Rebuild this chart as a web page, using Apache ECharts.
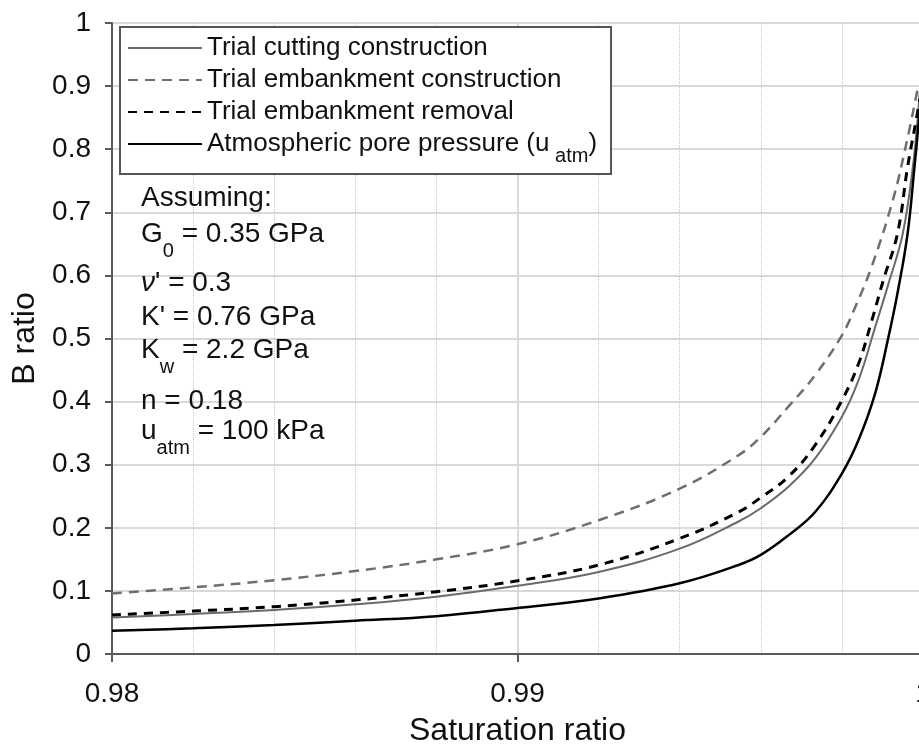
<!DOCTYPE html>
<html>
<head>
<meta charset="utf-8">
<script src="https://cdn.jsdelivr.net/npm/echarts@6/dist/echarts.min.js"></script>
<style>
  html, body { margin: 0; padding: 0; background: #fff; }
  #chart-b { width: 919px; height: 744px; }
</style>
</head>
<body>
<div id="chart-b"></div>
<script>
// series names (legend order)
const seriesNames = [
  "Trial cutting construction",
  "Trial embankment construction",
  "Trial embankment removal",
  "Atmospheric pore pressure (u atm)",
];

// saturation ratio / B ratio
const satCutting = [0.980, 0.982, 0.984, 0.986, 0.988, 0.990, 0.992, 0.994, 0.99545, 0.996, 0.99668, 0.99734, 0.998, 0.99841, 0.99882, 0.99914, 0.9995, 0.99975, 0.99987, 0.99992];
const bCutting   = [0.058, 0.0634, 0.0697, 0.0787, 0.0908, 0.108, 0.130, 0.167, 0.210, 0.231, 0.265, 0.310, 0.376, 0.434, 0.518, 0.585, 0.666, 0.772, 0.85, 0.89];

const satEmbConst = [0.980, 0.982, 0.984, 0.986, 0.988, 0.990, 0.992, 0.994, 0.99545, 0.996, 0.99668, 0.99734, 0.998, 0.99833, 0.99874, 0.99926, 0.99959, 0.99987];
const bEmbConst   = [0.096, 0.1056, 0.117, 0.1315, 0.150, 0.174, 0.212, 0.262, 0.315, 0.344, 0.392, 0.442, 0.505, 0.550, 0.615, 0.720, 0.809, 0.896];

const satEmbRemoval = [0.980, 0.982, 0.984, 0.986, 0.988, 0.990, 0.992, 0.994, 0.99545, 0.996, 0.99668, 0.99734, 0.998, 0.99841, 0.99874, 0.99902, 0.99937, 0.99962, 0.99983, 0.99992];
const bEmbRemoval   = [0.062, 0.068, 0.075, 0.0855, 0.0987, 0.116, 0.141, 0.183, 0.225, 0.248, 0.281, 0.331, 0.402, 0.460, 0.529, 0.592, 0.666, 0.772, 0.846, 0.88];

const satAtm = [0.980, 0.982, 0.984, 0.986, 0.988, 0.990, 0.992, 0.994, 0.99545, 0.996, 0.99668, 0.99734, 0.998, 0.99841, 0.99882, 0.99915, 0.99938, 0.99962, 0.99979, 0.99992];
const bAtm   = [0.037, 0.0407, 0.046, 0.0528, 0.060, 0.073, 0.088, 0.112, 0.141, 0.157, 0.188, 0.225, 0.286, 0.339, 0.413, 0.503, 0.575, 0.666, 0.772, 0.86];

// assumption text lines ({s|..} = subscript)
const notes = [
  "Assuming:",
  "G{s|0} = 0.35 GPa",
  "{i|ν}' = 0.3",
  "K' = 0.76 GPa",
  "K{s|w} = 2.2 GPa",
  "n = 0.18",
  "u{s|atm} = 100 kPa",
];
const noteY = [198, 234, 283, 317, 350, 401, 431];

const font = "'Liberation Sans', Arial, sans-serif";
const pairs = (xs, ys) => xs.map((x, i) => [x, ys[i]]);

const chart = echarts.init(document.getElementById("chart-b"));

function lineSeries(name, data, color, width, dash) {
  return {
    type: "line",
    name: name,
    data: data,
    showSymbol: false,
    symbol: "none",
    smooth: 0.4,
    lineStyle: { color: color, width: width, type: dash || "solid" },
    itemStyle: { color: color },
  };
}

chart.setOption({
  animation: false,
  backgroundColor: "#fff",
  grid: { left: 112, top: 23, width: 811, height: 631, outerBoundsMode: "none", containLabel: false },
  legend: {
    orient: "vertical",
    left: 120,
    top: 27,
    backgroundColor: "#fff",
    borderColor: "#555",
    borderWidth: 2,
    borderRadius: 0,
    padding: [8, 14, 8, 7],
    itemGap: 6,
    itemWidth: 74,
    itemHeight: 14,
    selectedMode: false,
    itemStyle: { opacity: 0 },
    data: seriesNames,
    formatter: function (name) {
      if (name === seriesNames[3]) return "Atmospheric pore pressure (u{s| atm})";
      return name;
    },
    textStyle: {
      fontFamily: font,
      fontSize: 26,
      color: "#111",
      rich: {
        s: { fontFamily: font, fontSize: 20, color: "#111", lineHeight: 26, verticalAlign: "top", padding: [15, 0, 0, 0] },
      },
    },
  },
  xAxis: {
    type: "value",
    min: 0.98,
    max: 1.0,
    interval: 0.01,
    name: "Saturation ratio",
    nameLocation: "middle",
    nameGap: 61,
    nameTextStyle: { fontFamily: font, fontSize: 32, color: "#111" },
    axisLine: { lineStyle: { color: "#595959", width: 2 } },
    axisTick: { show: true, length: 8, lineStyle: { color: "#595959", width: 2 } },
    axisLabel: { margin: 26, fontFamily: font, fontSize: 28, color: "#111" },
    splitLine: { show: true, lineStyle: { color: "#d9d9d9", width: 2 } },
    minorTick: { show: false, splitNumber: 5 },
    minorSplitLine: { show: true, lineStyle: { color: "#c4c4c4", width: 1, type: "dotted" } },
  },
  yAxis: {
    type: "value",
    min: 0,
    max: 1,
    interval: 0.1,
    name: "B ratio",
    nameLocation: "middle",
    nameGap: 71,
    nameTextStyle: { fontFamily: font, fontSize: 32, color: "#111" },
    axisLine: { show: true, lineStyle: { color: "#595959", width: 2 } },
    axisTick: { show: true, length: 7, lineStyle: { color: "#595959", width: 2 } },
    axisLabel: { margin: 21, fontFamily: font, fontSize: 28, color: "#111" },
    splitLine: { show: true, lineStyle: { color: "#d9d9d9", width: 2 } },
  },
  graphic: notes.map(function (t, i) {
    return {
      type: "text",
      x: 141,
      y: noteY[i],
      z: 10,
      style: {
        text: t,
        fontFamily: font,
        fontSize: 28,
        fill: "#111",
        verticalAlign: "middle",
        rich: {
          s: { fontFamily: font, fontSize: 20, fill: "#111", lineHeight: 28, verticalAlign: "top", padding: [21, 0, 0, 0] },
          i: { fontFamily: font, fontSize: 28, fontStyle: "italic", fill: "#111" },
        },
      },
    };
  }),
  series: [
    lineSeries(seriesNames[0], pairs(satCutting, bCutting), "#6a6a6a", 2),
    lineSeries(seriesNames[1], pairs(satEmbConst, bEmbConst), "#6e6e6e", 2.5, [10, 7]),
    lineSeries(seriesNames[2], pairs(satEmbRemoval, bEmbRemoval), "#000", 3, [9, 7]),
    lineSeries(seriesNames[3], pairs(satAtm, bAtm), "#000", 2.5),
  ],
});
</script>
</body>
</html>
